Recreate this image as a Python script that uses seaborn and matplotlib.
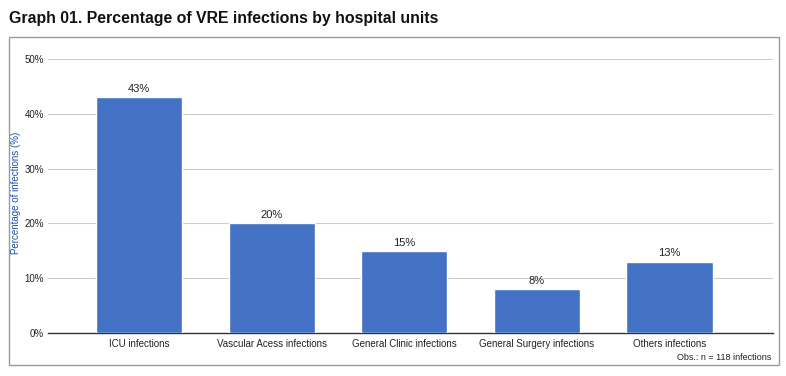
import matplotlib
matplotlib.use("Agg")
import matplotlib.pyplot as plt
import seaborn as sns
import pandas as pd
from matplotlib.patches import Rectangle
from matplotlib.ticker import FuncFormatter

categories = ["ICU infections", "Vascular Acess infections", "General Clinic infections",
              "General Surgery infections", "Others infections"]
values = [43, 20, 15, 8, 13]
yticks = [0, 10, 20, 30, 40, 50]

df = pd.DataFrame({"unit": categories, "pct": values})

sns.set_theme(style="white")
plt.rcParams['font.family'] = ['Liberation Sans', 'DejaVu Sans']

fig = plt.figure(figsize=(7.86, 3.76), dpi=100)
ax = fig.add_axes([48/786, 1-333/376, (773-48)/786, (333-59)/376])

sns.barplot(data=df, x="unit", y="pct", color="#4472c4", width=0.65, ax=ax, zorder=3,
            saturation=1)
ax.set_ylim(0, 50)
ax.set_xlim(-0.686, 4.78)
ax.set_yticks(yticks)
ax.yaxis.set_major_formatter(FuncFormatter(lambda v, p: f"{int(v)}%"))
ax.grid(axis="y", color="#cccccc", linewidth=0.8, zorder=0)
for s in ["top", "right", "left"]:
    ax.spines[s].set_visible(False)
ax.spines["bottom"].set_color("#333333")
ax.spines["bottom"].set_linewidth(1)
ax.tick_params(axis="both", length=0, labelsize=7, colors="#222222")
ax.tick_params(axis="x", pad=4)
ax.tick_params(axis="y", pad=3)
ax.set_xlabel("")
ax.set_ylabel("")
fig.text(16/786, 1-193/376, "Percentage of infections (%)", fontsize=7, color="#1c4fa0",
         rotation=90, ha="center", va="center")

for i, v in enumerate(values):
    ax.text(i, v + 0.6, f"{v}%", ha="center", va="bottom", fontsize=8, color="#222222")

fig.patches.append(Rectangle((9/786, 1-365/376), (779-9)/786, (365-37)/376,
                             transform=fig.transFigure, fill=False,
                             edgecolor="#9a9a9a", linewidth=1))
fig.text(9/786, 1-18/376, "Graph 01. Percentage of VRE infections by hospital units",
         fontsize=11.4, fontweight="bold", ha="left", va="center", color="#111111")
fig.text(771/786, 1-357/376, "Obs.: n = 118 infections", fontsize=6.5,
         ha="right", va="center", color="#222222")

fig.savefig("out.png", dpi=100)
